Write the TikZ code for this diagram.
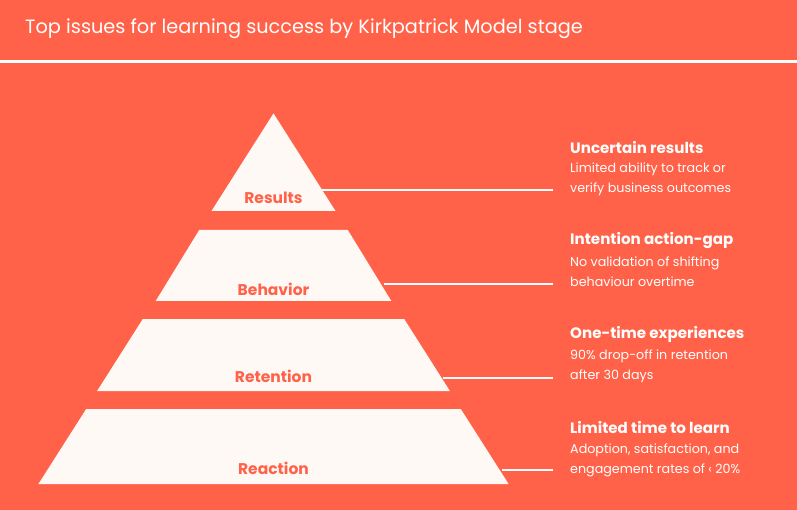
\documentclass[tikz,border=0pt]{standalone}
\usepackage{fontspec}
\setmainfont{Poppins}
\definecolor{bg}{HTML}{FF6248}
\definecolor{paper}{HTML}{FFF9F6}
\begin{document}
\begin{tikzpicture}[x=1pt,y=-1pt,
  tier/.style={fill=paper,draw=none},
  tierlabel/.style={font=\fontsize{15.5}{16}\selectfont\bfseries,text=bg,inner sep=0pt},
  issuehead/.style={font=\fontsize{15.1}{18}\selectfont\bfseries,text=white,anchor=west,inner sep=0pt},
  issuetext/.style={font=\fontsize{12.7}{20}\selectfont,text=white,anchor=north west,inner sep=0pt,align=left},
  link/.style={draw=white,line width=1.2pt}]
\fill[bg] (0,0) rectangle (797,510);
\useasboundingbox (0,0) rectangle (797,510);
\fill[white] (0,60) rectangle (797,63.5);
\node[anchor=west,inner sep=0pt,text=white,font=\fontsize{19.3}{20}\selectfont] (title) at (25,29) {Top issues for learning success by Kirkpatrick Model stage};
% tiers: half width = (y-113.4)*0.635, centre 273.5
\fill[tier] (273.5,113.4) -- (335.5,211) -- (211.5,211) -- cycle;
\fill[tier] (199.2,230) -- (347.8,230) -- (391.3,301) -- (155.7,301) -- cycle;
\fill[tier] (142.8,319) -- (404.2,319) -- (449.9,391) -- (97.1,391) -- cycle;
\fill[tier] (86.2,409) -- (460.8,409) -- (508.6,484) -- (38.4,484) -- cycle;
\node[tierlabel] (results) at (273.5,198) {Results};
\node[tierlabel] (behavior) at (273.5,289) {Behavior};
\node[tierlabel] (retention) at (273.5,376) {Retention};
\node[tierlabel] (reaction) at (273.5,468) {Reaction};
% connectors
\coordinate (r1) at (322.2,190);
\coordinate (r2) at (384.1,284);
\coordinate (r3) at (442.6,378);
\coordinate (r4) at (502.3,470);
\coordinate (e1) at (553,190);
\coordinate (e2) at (553,284);
\coordinate (e3) at (553,378);
\coordinate (e4) at (553,470);
\draw[link] (r1) -- (e1);
\draw[link] (r2) -- (e2);
\draw[link] (r3) -- (e3);
\draw[link] (r4) -- (e4);
% issues
\node[issuehead] (h1) at (570,148) {Uncertain results};
\node[issuetext] (t1) at (570,163) {Limited ability to track or\\verify business outcomes};
\node[issuehead] (h2) at (570,241) {Intention action-gap};
\node[issuetext] (t2) at (570,257) {No validation of shifting\\behaviour overtime};
\node[issuehead] (h3) at (570,334) {One-time experiences};
\node[issuetext] (t3) at (570,350) {90\% drop-off in retention\\after 30 days};
\node[issuehead] (h4) at (570,428) {Limited time to learn};
\node[issuetext] (t4) at (570,444) {Adoption, satisfaction, and\\engagement rates of ‹ 20\%};
\end{tikzpicture}
\end{document}
